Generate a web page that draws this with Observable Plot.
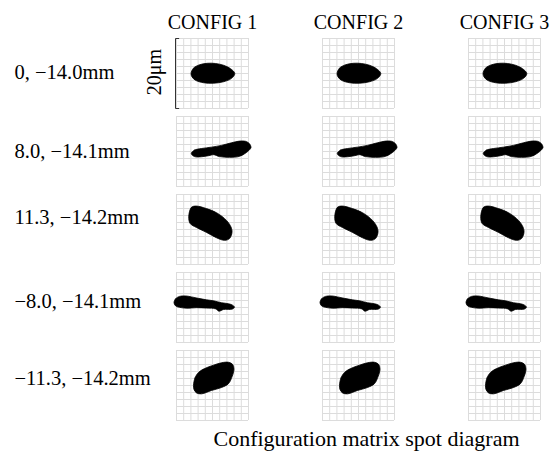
<!DOCTYPE html>
<html>
<head>
<meta charset="utf-8">
<script src="https://cdn.jsdelivr.net/npm/d3@7"></script>
<script src="https://cdn.jsdelivr.net/npm/@observablehq/plot@0.6"></script>
<style>
  html, body { margin: 0; padding: 0; background: white; }
</style>
</head>
<body>
<div id="chart"></div>
<script>
// Column (configuration) and row (field point) categories
const configs = ["CONFIG 1", "CONFIG 2", "CONFIG 3"];
const fields = ["0, −14.0mm", "8.0, −14.1mm", "11.3, −14.2mm", "−8.0, −14.1mm", "−11.3, −14.2mm"];

// Grid lines of each spot box (μm), box spans 20 μm
const gridTicks = [-10, -8, -6, -4, -2, 0, 2, 4, 6, 8, 10];
const scaleBarUm = 20;

// Spot outlines (μm), one per field point
const spot1X = [-5.97, -5.28, -3.61, -1.39, 0.83, 3.06, 5.0, 6.19, 5.28, 3.06, 0.28, -2.5, -4.72, -5.69];
const spot1Y = [0.0, 1.53, 2.5, 2.92, 2.86, 2.36, 1.39, 0.0, -1.39, -2.36, -2.78, -2.64, -1.94, -0.97];

const spot2X = [-5.9, -5.0, -3.06, -0.28, 2.5, 5.28, 7.5, 9.17, 10.28, 10.7, 10.56, 9.44, 7.5, 4.72, 1.94, 0.28, -1.11, -3.06, -5.0];
const spot2Y = [-0.6, 0.4, 0.85, 1.25, 1.75, 2.5, 2.97, 2.92, 2.22, 1.25, 0.83, -0.28, -1.39, -1.67, -1.45, -0.9, -1.2, -1.5, -1.45];

const spot3X = [-6.6, -5.9, -4.6, -1.67, 1.11, 3.89, 5.14, 5.42, 4.72, 3.33, 1.11, -1.67, -4.44, -6.2];
const spot3Y = [3.6, 6.3, 6.7, 5.97, 4.8, 2.6, 0.7, -0.83, -2.6, -3.1, -2.36, -0.83, 0.56, 1.7];

const spot4X = [-10.69, -10.28, -9.17, -7.5, -5.83, -3.89, -1.67, 0.28, 2.5, 4.44, 5.56, 6.11, 5.56, 3.06, 1.8, 0.9, -1.67, -4.44, -7.22, -9.17, -10.28];
const spot4Y = [1.36, 2.47, 3.17, 3.31, 3.03, 2.61, 2.19, 1.92, 1.36, 1.08, 0.67, 0.11, -0.44, -0.58, -1.05, -0.4, -0.17, -0.05, -0.2, 0.05, 0.5];

const spot5X = [-5.28, -4.86, -3.89, -2.22, 0.28, 2.5, 4.44, 5.56, 5.97, 5.42, 4.44, 2.5, -0.28, -3.06, -4.44, -5.14];
const spot5Y = [-0.03, 2.19, 3.72, 4.83, 5.81, 6.5, 6.64, 6.08, 4.69, 2.47, 0.53, -0.58, -1.42, -2.39, -2.11, -1.14];

const spotX = [spot1X, spot2X, spot3X, spot4X, spot5X];
const spotY = [spot1Y, spot2Y, spot3Y, spot4Y, spot5Y];

// Row label vertical placement (μm within the box)
const labelY = [0.43, 0.14, 3.47, 1.8, 2.07];

// Build the table of outline vertices
const spots = [];
configs.forEach(c => {
  fields.forEach((f, i) => {
    spotX[i].forEach((x, j) => {
      spots.push({config: c, field: f, x, y: spotY[i][j]});
    });
  });
});

const half = scaleBarUm / 2;
const bar = [
  {x: -half + 0.9, y: half}, {x: -half, y: half},
  {x: -half, y: -half}, {x: -half + 0.9, y: -half}
];

const font = "Liberation Serif, Times New Roman, serif";

const chart = Plot.plot({
  width: 558,
  height: 456,
  marginLeft: 175,
  marginRight: 17,
  marginTop: 36,
  marginBottom: 33,
  style: {fontFamily: font, fontSize: "20px", background: "white", color: "black"},
  x: {domain: [-half, half], axis: null},
  y: {domain: [-half, half], axis: null},
  fx: {domain: configs, paddingInner: 0.51, paddingOuter: 0, axis: null},
  fy: {domain: fields, paddingInner: 0.1, paddingOuter: 0, axis: null},
  marks: [
    Plot.gridX(gridTicks, {stroke: "#dcdcdc", strokeOpacity: 1, strokeWidth: 1}),
    Plot.gridY(gridTicks, {stroke: "#dcdcdc", strokeOpacity: 1, strokeWidth: 1}),
    Plot.line(spots, {
      x: "x", y: "y", fx: "config", fy: "field",
      fill: "black", stroke: "black", strokeWidth: 0.8,
      curve: "catmull-rom-closed"
    }),
    // scale bar
    Plot.line(bar, {
      x: "x", y: "y", fx: () => configs[0], fy: () => fields[0],
      stroke: "#333", strokeWidth: 1, dx: -1
    }),
    Plot.text([scaleBarUm + "μm"], {
      x: -half, y: 0.43, text: d => d, fx: () => configs[0], fy: () => fields[0],
      rotate: -90, dx: -22, fontSize: 20
    }),
    // column headers
    Plot.text(configs, {
      fx: d => d, fy: () => fields[0], text: d => d,
      frameAnchor: "top", lineAnchor: "bottom", dy: -10, fontSize: 20
    }),
    // row labels
    Plot.text(fields, {
      fx: () => configs[0], fy: d => d, text: d => d,
      x: -half, y: (d, i) => labelY[i],
      textAnchor: "start", dx: -162, fontSize: 20.5
    }),
    // caption
    Plot.text(["Configuration matrix spot diagram"], {
      fx: () => configs[1], fy: () => fields[4], text: d => d,
      frameAnchor: "bottom", lineAnchor: "bottom", dy: 25, dx: 8, fontSize: 22
    })
  ]
});

document.getElementById("chart").appendChild(chart);
</script>
</body>
</html>
